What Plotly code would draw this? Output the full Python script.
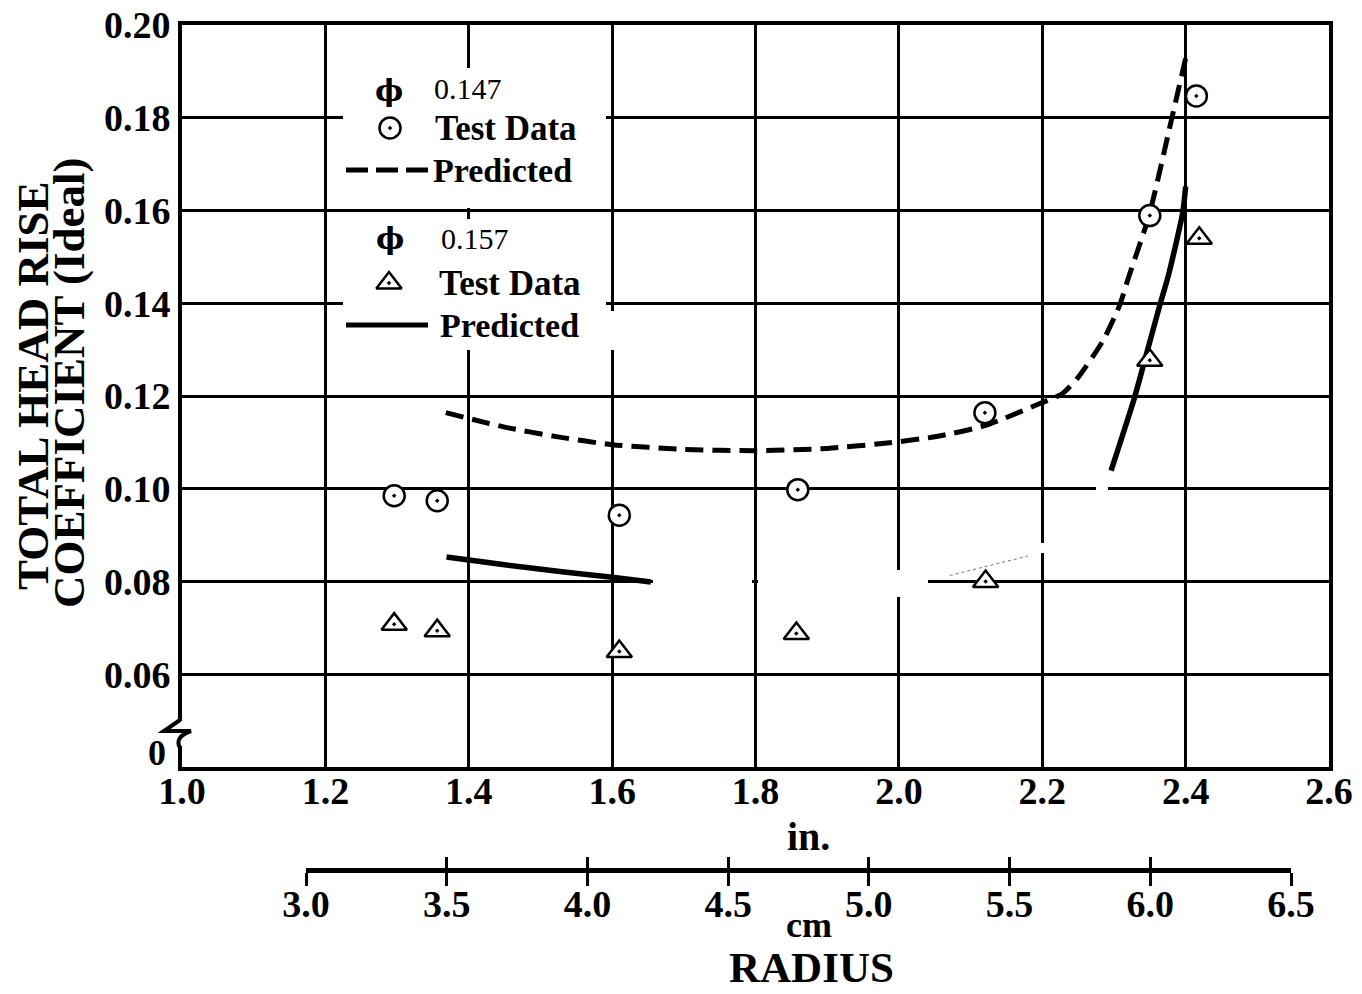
import plotly.graph_objects as go

# ---------------- data ----------------
circ_x = [1.296, 1.356, 1.610, 1.859, 2.120, 2.350, 2.415]
circ_y = [0.0985, 0.0974, 0.0943, 0.0998, 0.1164, 0.1589, 0.1847]

tri_x = [1.296, 1.356, 1.610, 1.857, 2.121, 2.350, 2.419]
tri_y = [0.0708, 0.0694, 0.0649, 0.0688, 0.0800, 0.1277, 0.1540]

pred147_x = [1.368, 1.45, 1.52, 1.60, 1.70, 1.80, 1.90, 1.98, 2.05, 2.12,
             2.20, 2.228, 2.25, 2.285, 2.308, 2.32, 2.349, 2.38, 2.40]
pred147_y = [0.1164, 0.1133, 0.1113, 0.1095, 0.1085, 0.1082, 0.1087, 0.1098,
             0.1112, 0.1136, 0.1186, 0.1205, 0.1240, 0.1320, 0.1396, 0.1454,
             0.1589, 0.1794, 0.1928]

pred157a_x = [1.369, 1.45, 1.53, 1.60, 1.654]
pred157a_y = [0.0853, 0.0836, 0.0821, 0.0809, 0.0799]
pred157b_x = [2.071, 2.18]
pred157b_y = [0.0813, 0.0855]
pred157c_x = [2.296, 2.329, 2.343, 2.364, 2.376, 2.396, 2.400]
pred157c_y = [0.1039, 0.1198, 0.1277, 0.1396, 0.1460, 0.1596, 0.1652]

x_ticks = [1.0, 1.2, 1.4, 1.6, 1.8, 2.0, 2.2, 2.4, 2.6]
y_ticks = [0.04, 0.06, 0.08, 0.10, 0.12, 0.14, 0.16, 0.18, 0.20]
y_ticktext = ["", "0.06", "0.08", "0.10", "0.12", "0.14", "0.16", "0.18", "0.20"]
cm_ticks = [3.0, 3.5, 4.0, 4.5, 5.0, 5.5, 6.0, 6.5]

# ---------------- layout geometry ----------------
W, H = 1362, 994
ML, MR, MT, MB = 182, 33, 25, 94
PW = W - ML - MR
PH = H - MT - MB
Y_BOT = 767  # pixel of the bottom axis

SERIF = "Liberation Serif"
BLACK = "black"


def xp(px):  # pixel -> paper x
    return (px - ML) / PW


def yp(py):  # pixel -> paper y
    return (H - MB - py) / PH


def dx(px):  # pixel -> data x
    return 1.0 + (px - ML) / PW * 1.6


def dy(py):  # pixel -> data y
    return 0.04 + (Y_BOT - py) / (Y_BOT - MT) * 0.16


fig = go.Figure()

# predicted curves
fig.add_trace(go.Scatter(x=pred147_x, y=pred147_y, mode="lines",
                         line=dict(color=BLACK, width=5, dash="18px,9px", shape="spline", smoothing=0.6),
                         showlegend=False, hoverinfo="skip"))
fig.add_trace(go.Scatter(x=pred157a_x, y=pred157a_y, mode="lines",
                         line=dict(color=BLACK, width=5.5, shape="spline", smoothing=0.6),
                         showlegend=False, hoverinfo="skip"))
fig.add_trace(go.Scatter(x=pred157b_x, y=pred157b_y, mode="lines",
                         line=dict(color="#777777", width=1, dash="dot"),
                         showlegend=False, hoverinfo="skip"))
fig.add_trace(go.Scatter(x=pred157c_x, y=pred157c_y, mode="lines",
                         line=dict(color=BLACK, width=5.5, shape="spline", smoothing=0.6),
                         showlegend=False, hoverinfo="skip"))

# test data
fig.add_trace(go.Scatter(x=circ_x, y=circ_y, mode="markers",
                         marker=dict(symbol="circle-dot", size=21, color="white",
                                     line=dict(color=BLACK, width=2.5)),
                         showlegend=False))
fig.add_trace(go.Scatter(x=tri_x, y=tri_y, mode="markers",
                         marker=dict(symbol="triangle-up-dot", size=22, color="white",
                                     line=dict(color=BLACK, width=2.5)),
                         showlegend=False))

# dummy traces so the cm axes exist
fig.add_trace(go.Scatter(x=[], y=[], xaxis="x3", yaxis="y3", showlegend=False))
fig.add_trace(go.Scatter(x=[], y=[], xaxis="x4", yaxis="y3", showlegend=False))

# ---- legend samples (pixel coordinate overlay axes x5/y5) ----
fig.add_trace(go.Scatter(x=[390], y=[128], xaxis="x5", yaxis="y5", mode="markers",
                         marker=dict(symbol="circle-dot", size=21, color="white",
                                     line=dict(color=BLACK, width=2.5)),
                         showlegend=False, hoverinfo="skip"))
fig.add_trace(go.Scatter(x=[389], y=[283], xaxis="x5", yaxis="y5", mode="markers",
                         marker=dict(symbol="triangle-up-dot", size=22, color="white",
                                     line=dict(color=BLACK, width=2.5)),
                         showlegend=False, hoverinfo="skip"))
fig.add_trace(go.Scatter(x=[346, 432], y=[170, 170], xaxis="x5", yaxis="y5", mode="lines",
                         line=dict(color=BLACK, width=5, dash="22px,8px"),
                         showlegend=False, hoverinfo="skip"))
fig.add_trace(go.Scatter(x=[346, 428], y=[325, 325], xaxis="x5", yaxis="y5", mode="lines",
                         line=dict(color=BLACK, width=5),
                         showlegend=False, hoverinfo="skip"))

tick_font = dict(family=SERIF, size=38, color=BLACK, weight="bold")

fig.update_layout(
    width=W, height=H,
    margin=dict(l=ML, r=MR, t=MT, b=MB, pad=0, autoexpand=False),
    paper_bgcolor="white", plot_bgcolor="white",
    showlegend=False,
    xaxis=dict(domain=[0, 1], range=[1.0, 2.6], tickvals=x_ticks,
               ticktext=[f"{v:.1f}" for v in x_ticks], tickfont=tick_font,
               showgrid=True, gridcolor=BLACK, gridwidth=2.5,
               showline=True, linecolor=BLACK, linewidth=4, mirror=True,
               ticks="", zeroline=False, anchor="y", automargin=False,
               ticklabelstandoff=-13),
    yaxis=dict(domain=[yp(Y_BOT), 1], range=[0.04, 0.20], tickvals=y_ticks,
               ticktext=y_ticktext, tickfont=tick_font,
               showgrid=True, gridcolor=BLACK, gridwidth=2.5,
               showline=True, linecolor=BLACK, linewidth=4, mirror=True,
               ticks="", zeroline=False, anchor="x", ticklabelstandoff=0, automargin=False),
    xaxis3=dict(domain=[xp(306), xp(1291)], range=[3.0, 6.5], tickvals=cm_ticks,
                ticktext=[f"{v:.1f}" for v in cm_ticks], tickfont=tick_font,
                showgrid=False, zeroline=False, showline=True, linecolor=BLACK, linewidth=5,
                ticks="outside", ticklen=13, tickwidth=3, tickcolor=BLACK,
                anchor="free", position=yp(870), automargin=False, ticklabelstandoff=-15),
    xaxis4=dict(overlaying="x3", range=[3.0, 6.5], tickvals=cm_ticks, showticklabels=False,
                showgrid=False, zeroline=False, showline=False,
                ticks="inside", ticklen=13, tickwidth=3, tickcolor=BLACK,
                anchor="free", position=yp(870), automargin=False),
    yaxis3=dict(domain=[0, 0.02], visible=False, anchor="x3", range=[0, 1], automargin=False),
    xaxis5=dict(overlaying="x", range=[ML, ML + PW], visible=False, anchor="y5", automargin=False),
    yaxis5=dict(overlaying="y", range=[Y_BOT, MT], visible=False, anchor="x5", automargin=False),
)

# ---------------- blank-outs of the grid (scan look) ----------------
blank = [
    (343, 606, 68, 208),   # legend block 1
    (343, 606, 219, 350),  # legend block 2
    (605, 615, 311, 350),  # gap in 1.6 line
    (653, 752, 579, 589),  # gap in 0.08 line
    (758, 928, 579, 589),
    (890, 900, 570, 597),  # gap in 2.0 line
    (1096, 1108, 485, 495),  # gap in 0.10 line
    (1037, 1047, 543, 553),  # gap in 2.2 line
]
for x0, x1, y0, y1 in blank:
    fig.add_shape(type="rect", xref="x", yref="y", x0=dx(x0), x1=dx(x1), y0=dy(y1), y1=dy(y0),
                  fillcolor="white", line=dict(width=0), layer="between")

# axis break symbol
fig.add_shape(type="rect", xref="paper", yref="paper", x0=xp(175), x1=xp(188),
              y0=yp(746), y1=yp(721), fillcolor="white", line=dict(width=0), layer="above")
fig.add_shape(type="path", xref="paper", yref="paper",
              path=(f"M{xp(180)},{yp(720)} L{xp(164)},{yp(731)} L{xp(191)},{yp(731)} "
                    f"Q{xp(174)},{yp(737)} {xp(180)},{yp(748)}"),
              line=dict(color=BLACK, width=4), layer="above")

# ---------------- texts ----------------
def ann(text, x, y, size, ref="paper", xanchor="center", weight="bold", family=SERIF, angle=0):
    if ref == "paper":
        fig.add_annotation(text=text, x=xp(x), y=yp(y), xref="paper", yref="paper",
                           showarrow=False, xanchor=xanchor, yanchor="middle", textangle=angle,
                           borderpad=0,
                           font=dict(family=family, size=size, color=BLACK, weight=weight))
    else:
        fig.add_annotation(text=text, x=x, y=y, xref="x5", yref="y5",
                           showarrow=False, xanchor=xanchor, yanchor="middle", textangle=angle,
                           font=dict(family=family, size=size, color=BLACK, weight=weight))


ann("TOTAL HEAD RISE", 33, 386, 45, angle=-90)
ann("COEFFICIENT (Ideal)", 69, 383, 45, angle=-90)
ann("0", 157, 753, 36)
ann("in.", 808, 836, 40)
ann("cm", 809, 925, 36)
ann("RADIUS", 811, 968, 43)

# legend texts
ann("ϕ", 389, 90, 30, ref="x5", family="DejaVu Serif")
ann("0.147", 432, 88, 30, ref="x5", xanchor="left", weight="normal")
ann("Test Data", 433, 128, 35, ref="x5", xanchor="left")
ann("Predicted", 431, 170, 34, ref="x5", xanchor="left")
ann("ϕ", 390, 238, 30, ref="x5", family="DejaVu Serif")
ann("0.157", 439, 238, 30, ref="x5", xanchor="left", weight="normal")
ann("Test Data", 437, 283, 35, ref="x5", xanchor="left")
ann("Predicted", 438, 325, 34, ref="x5", xanchor="left")

fig.write_html("out.html")
